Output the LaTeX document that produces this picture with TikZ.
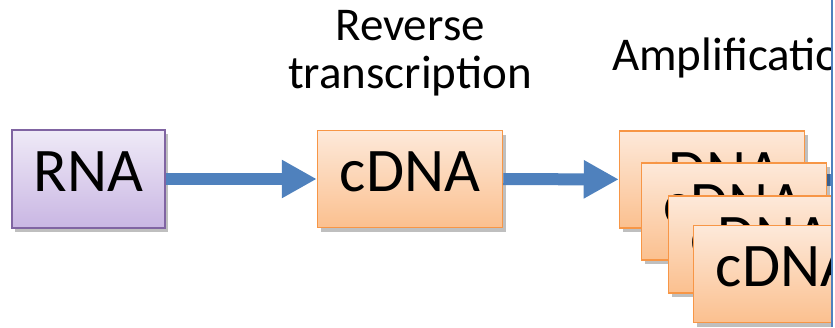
\documentclass[tikz,border=0pt]{standalone}
\usepackage{fontspec}
\setmainfont{Carlito}
\usetikzlibrary{arrows.meta,shadows}

\definecolor{flowblue}{HTML}{4F81BD}
\definecolor{rnaedge}{HTML}{8064A2}
\definecolor{rnatop}{HTML}{EFEAF7}
\definecolor{rnabot}{HTML}{C9B6E3}
\definecolor{dnaedge}{HTML}{F79646}
\definecolor{dnatop}{HTML}{FDE9DA}
\definecolor{dnabot}{HTML}{FBC08F}

\tikzset{
  molbox/.style={draw, line width=1.5pt, inner sep=0pt, font=\fontsize{62}{64}\selectfont,
    text height=40pt, text depth=15pt,
    drop shadow={shadow xshift=3pt, shadow yshift=-4pt, opacity=0.25, fill=black}},
  rnabox/.style={molbox, draw=rnaedge, top color=rnatop, bottom color=rnabot,
    minimum width=153pt, minimum height=98pt},
  dnabox/.style={molbox, draw=dnaedge, top color=dnatop, bottom color=dnabot,
    minimum width=185pt, minimum height=97pt},
  steplabel/.style={inner sep=0pt, font=\fontsize{47}{50}\selectfont},
  flow/.style={draw=flowblue, line width=12pt, -{Triangle[length=35pt,width=36pt]}}
}

\begin{document}
\begin{tikzpicture}[x=1pt,y=-1pt]
  \useasboundingbox (0,0) rectangle (835,327);
  \begin{scope}
    \clip (0,0) rectangle (831,327);
    % labels over the arrows
    \node[steplabel, anchor=base] (rev) at (410,40) {Reverse};
    \node[steplabel, anchor=base] (trans) at (410,88) {transcription};
    \node[steplabel, anchor=base west] (amp) at (612,70) {Amplification};

    \node[rnabox] (rna) at (88.5,179) {RNA};
    \node[dnabox] (cdna) at (410,179) {cDNA};
    \node[dnabox] (c1) at (712,179.5) {cDNA};
    \coordinate (out) at (900,179.5);

    \draw[flow] (rna) -- (cdna);
    \draw[flow] (cdna) -- (c1);
    \draw[flow] (c1) -- (out);

    % copies stacked on top of each other
    \foreach \n/\x/\y in {2/734/211.5, 3/761/244.5, 4/786/274}
      \node[dnabox] (c\n) at (\x,\y) {cDNA};
  \end{scope}
  \draw[flowblue, line width=2pt] (832,0) -- (832,327);
\end{tikzpicture}
\end{document}
